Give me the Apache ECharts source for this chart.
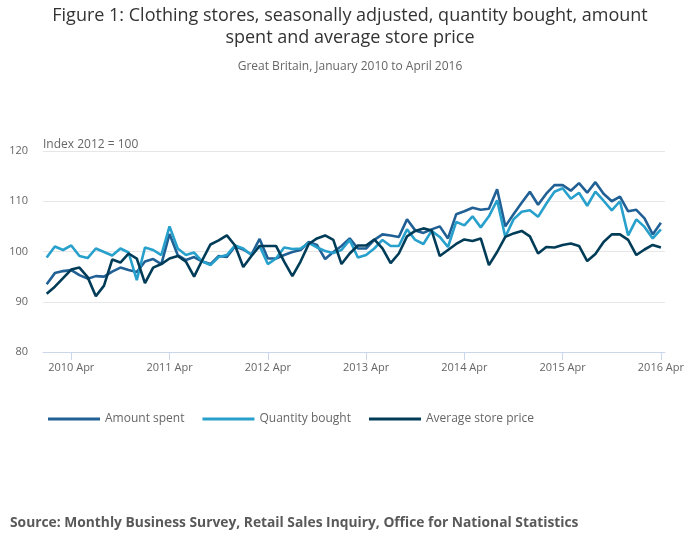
<!DOCTYPE html>
<html>
<head>
<meta charset="utf-8">
<script src="https://cdn.jsdelivr.net/npm/echarts@6/dist/echarts.min.js"></script>
<style>
  html, body { margin: 0; padding: 0; background: #fff; }
  #chart { width: 700px; height: 549px; }
</style>
</head>
<body>
<div id="chart"></div>
<script>
// monthly, January 2010 to April 2016 (index 0 = 2010 Jan)
var tickIdx = [3, 15, 27, 39, 51, 63, 75];
var tickLabels = ['2010 Apr', '2011 Apr', '2012 Apr', '2013 Apr', '2014 Apr', '2015 Apr', '2016 Apr'];

var amountSpent = [
	93.5, 95.7, 96.1, 96.3, 95.3, 94.6, 95.1, 95.0, 96.0, 96.8, 96.3, 95.9,
	98.0, 98.5, 97.5, 103.5, 99.3, 98.3, 98.9, 98.0, 97.5, 99.1, 98.9, 101.0,
	100.4, 99.4, 102.5, 98.6, 98.6, 99.3, 99.9, 100.3, 101.9, 101.3, 98.5, 99.9,
	101.1, 102.6, 100.6, 100.6, 102.3, 103.4, 103.2, 102.9, 106.4, 104.2, 103.7, 104.4,
	105.0, 102.6, 107.4, 108.0, 108.7, 108.3, 108.5, 112.4, 105.0, 107.4, 109.7, 111.9,
	109.3, 111.5, 113.2, 113.2, 112.1, 113.6, 111.7, 113.8, 111.5, 110.0, 110.9, 108.0,
	108.3, 106.6, 103.4, 105.7
];
var quantityBought = [
	98.8, 101.0, 100.3, 101.2, 99.1, 98.7, 100.6, 99.9, 99.2, 100.6, 99.8, 94.3,
	100.8, 100.3, 99.3, 105.0, 100.6, 99.3, 99.8, 98.0, 97.3, 98.9, 99.3, 101.2,
	100.6, 99.3, 101.1, 97.5, 98.6, 100.8, 100.5, 100.6, 101.7, 100.8, 100.1, 99.7,
	100.3, 102.3, 98.8, 99.3, 100.6, 102.3, 101.1, 101.1, 104.4, 102.3, 101.5, 104.1,
	102.9, 100.9, 105.9, 105.2, 107.0, 104.8, 107.0, 110.2, 102.9, 106.4, 107.9, 108.2,
	106.9, 109.5, 111.9, 112.6, 110.5, 111.7, 109.1, 111.9, 110.1, 108.2, 110.0, 103.2,
	106.4, 104.9, 102.6, 104.4
];
var avgStorePrice = [
	91.6, 93.0, 94.7, 96.4, 96.8, 94.9, 91.1, 93.2, 98.4, 97.8, 99.6, 98.6,
	93.7, 96.8, 97.5, 98.6, 99.1, 98.0, 95.0, 98.3, 101.4, 102.2, 103.2, 101.2,
	96.9, 99.1, 101.1, 101.1, 101.1, 98.0, 95.1, 98.0, 101.5, 102.6, 103.2, 102.3,
	97.5, 99.6, 101.2, 101.2, 102.4, 100.6, 97.7, 99.6, 103.0, 104.1, 104.6, 104.2,
	99.1, 100.3, 101.5, 102.4, 102.1, 102.6, 97.3, 99.9, 102.9, 103.6, 104.1, 103.0,
	99.6, 100.9, 100.8, 101.3, 101.6, 101.1, 98.1, 99.5, 101.9, 103.4, 103.4, 102.3,
	99.3, 100.4, 101.3, 100.8
];

function pairs(arr) {
	return arr.map(function(v, i) { return [i, v]; });
}

var font = '"Open Sans", "Noto Sans", sans-serif';

function line(name, arr, color) {
	return {
		name: name,
		type: 'line',
		data: pairs(arr),
		showSymbol: false,
		symbol: 'none',
		animation: false,
		lineStyle: { color: color, width: 2.6 },
		itemStyle: { color: color }
	};
}

var titleStyle = { fontFamily: font, fontSize: 18, fontWeight: 'normal', color: '#333' };

var option = {
	backgroundColor: '#fff',
	textStyle: { fontFamily: font },
	title: [{
		text: 'Figure 1: Clothing stores, seasonally adjusted, quantity bought, amount',
		left: 'center',
		top: 2,
		textStyle: titleStyle
	}, {
		text: 'spent and average store price',
		left: 'center',
		top: 24,
		textStyle: titleStyle
	}, {
		text: 'Great Britain, January 2010 to April 2016',
		left: 'center',
		top: 56,
		textStyle: { fontFamily: font, fontSize: 12, fontWeight: 'normal', color: '#666' }
	}, {
		text: 'Index 2012 = 100',
		left: 38,
		top: 134,
		textStyle: { fontFamily: font, fontSize: 12, fontWeight: 'normal', color: '#666' }
	}, {
		text: 'Source: Monthly Business Survey, Retail Sales Inquiry, Office for National Statistics',
		left: 5,
		top: 511,
		textStyle: { fontFamily: font, fontSize: 13.8, fontWeight: 'bold', color: '#595959' }
	}],
	legend: {
		left: 43,
		top: 408,
		icon: 'rect',
		itemWidth: 52,
		itemHeight: 3,
		itemGap: 18,
		textStyle: { fontFamily: font, fontSize: 12, color: '#666' },
		data: ['Amount spent', 'Quantity bought', 'Average store price']
	},
	grid: { left: 43, right: 35, top: 151, bottom: 197, containLabel: false },
	xAxis: {
		type: 'value',
		min: -0.45,
		max: 75.5,
		splitLine: { show: false },
		axisLine: { show: true, lineStyle: { color: '#ccd6eb' } },
		axisTick: { show: true, length: 8, lineStyle: { color: '#ccd6eb' }, customValues: tickIdx },
		axisLabel: {
			customValues: tickIdx,
			margin: 10,
			color: '#666',
			fontSize: 11,
			fontFamily: font,
			formatter: function(v) { return tickLabels[tickIdx.indexOf(v)]; }
		}
	},
	yAxis: {
		type: 'value',
		min: 80,
		max: 120,
		interval: 10,
		axisLine: { show: false },
		axisTick: { show: false },
		axisLabel: { color: '#666', fontSize: 11, fontFamily: font, margin: 15 },
		splitLine: { lineStyle: { color: '#e6e6e6' } }
	},
	series: [
		line('Amount spent', amountSpent, '#206095'),
		line('Quantity bought', quantityBought, '#27a0cc'),
		line('Average store price', avgStorePrice, '#003c57')
	]
};

var chart = echarts.init(document.getElementById('chart'));
chart.setOption(option);
</script>
</body>
</html>
